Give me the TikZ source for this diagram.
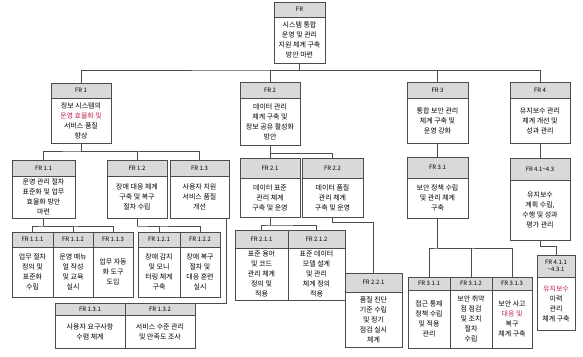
\documentclass[tikz,border=0pt]{standalone}
\usepackage{fontspec}
\setmainfont{Noto Sans CJK KR}
\usepackage{xcolor}
\definecolor{krred}{RGB}{190,40,80}
\usetikzlibrary{positioning}

\begin{document}
\begin{tikzpicture}[x=1pt,y=-1pt,
  hd/.style={draw=black!70,fill=gray!30,line width=0.8pt,inner sep=1pt,outer sep=0pt,
             anchor=north west,font=\fontsize{6}{7}\selectfont},
  bd/.style={draw=black!70,fill=white,line width=0.8pt,inner sep=1pt,outer sep=0pt,
             align=center,font=\fontsize{7}{10}\selectfont},
  link/.style={draw=black!70,line width=0.8pt}]
  \useasboundingbox (0,0) rectangle (583,356);
  %% FR
  \node[hd,minimum width=51pt,minimum height=15pt] (fr) at (274,2) {FR};
  \node[bd,minimum width=51pt,minimum height=46pt,below=0pt of fr] (frb)
        {시스템 통합\\운영 및 관리\\지원 체계 구축\\방안 마련};
  %% FR 1 .. FR 4
  \node[hd,minimum width=60pt,minimum height=15pt] (fr1) at (51,83) {FR 1};
  \node[bd,minimum width=60pt,minimum height=45pt,below=0pt of fr1] (fr1b)
        {정보 시스템의\\\textcolor{krred}{운영 효율화 및}\\서비스 품질\\향상};
  \node[hd,minimum width=60pt,minimum height=16pt] (fr2) at (240,82) {FR 2};
  \node[bd,minimum width=60pt,minimum height=47pt,below=0pt of fr2] (fr2b)
        {데이터 관리\\체계 구축 및\\정보 공유 활성화\\방안};
  \node[hd,minimum width=61pt,minimum height=16pt] (fr3) at (407,82) {FR 3};
  \node[bd,minimum width=61pt,minimum height=45pt,below=0pt of fr3] (fr3b)
        {통합 보안 관리\\체계 구축 및\\운영 강화};
  \node[hd,minimum width=60pt,minimum height=16pt] (fr4) at (510,82) {FR 4};
  \node[bd,minimum width=60pt,minimum height=45pt,below=0pt of fr4] (fr4b)
        {유지보수 관리\\체계 개선 및\\성과 관리};
  %% FR 1.x
  \node[hd,minimum width=63pt,minimum height=16pt] (fr11) at (12,160) {FR 1.1};
  \node[bd,minimum width=63pt,minimum height=42pt,below=0pt of fr11] (fr11b)
        {운영 관리 절차\\표준화 및 업무\\효율화 방안\\마련};
  \node[hd,minimum width=60pt,minimum height=16pt] (fr12) at (107,160) {FR 1.2};
  \node[bd,minimum width=60pt,minimum height=42pt,below=0pt of fr12] (fr12b)
        {장애 대응 체계\\구축 및 복구\\절차 수립};
  \node[hd,minimum width=59pt,minimum height=16pt] (fr13) at (170,160) {FR 1.3};
  \node[bd,minimum width=59pt,minimum height=42pt,below=0pt of fr13] (fr13b)
        {사용자 지원\\서비스 품질\\개선};
  %% FR 2.x, 3.x, 4.x
  \node[hd,minimum width=60pt,minimum height=20pt] (fr21) at (240,158) {FR 2.1};
  \node[bd,minimum width=60pt,minimum height=39pt,below=0pt of fr21] (fr21b)
        {데이터 표준\\관리 체계\\구축 및 운영};
  \node[hd,minimum width=61pt,minimum height=20pt] (fr22) at (302,158) {FR 2.2};
  \node[bd,minimum width=61pt,minimum height=39pt,below=0pt of fr22] (fr22b)
        {데이터 품질\\관리 체계\\구축 및 운영};
  \node[hd,minimum width=61pt,minimum height=21pt] (fr31) at (407,157) {FR 3.1};
  \node[bd,minimum width=61pt,minimum height=40pt,below=0pt of fr31] (fr31b)
        {보안 정책 수립\\및 관리 체계\\구축};
  \node[hd,minimum width=60pt,minimum height=22pt] (fr4x) at (510,158) {FR 4.1\textasciitilde4.3};
  \node[bd,minimum width=60pt,minimum height=60pt,below=0pt of fr4x] (fr4xb)
        {유지보수\\계획 수립,\\수행 및 성과\\평가 관리};
  %% FR 1.1.x, 1.2.x
  \node[hd,minimum width=41pt,minimum height=15pt] (fr111) at (12,232) {FR 1.1.1};
  \node[bd,minimum width=41pt,minimum height=50pt,below=0pt of fr111] (fr111b)
        {업무 절차\\정의 및\\표준화\\수립};
  \node[hd,minimum width=40pt,minimum height=15pt] (fr112) at (53,232) {FR 1.1.2};
  \node[bd,minimum width=40pt,minimum height=50pt,below=0pt of fr112] (fr112b)
        {운영 매뉴\\얼 작성\\및 교육\\실시};
  \node[hd,minimum width=40pt,minimum height=15pt] (fr113) at (93,232) {FR 1.1.3};
  \node[bd,minimum width=40pt,minimum height=50pt,below=0pt of fr113] (fr113b)
        {업무 자동\\화 도구\\도입};
  \node[hd,minimum width=42pt,minimum height=15pt] (fr121) at (138,232) {FR 1.2.1};
  \node[bd,minimum width=42pt,minimum height=50pt,below=0pt of fr121] (fr121b)
        {장애 감지\\및 모니\\터링 체계\\구축};
  \node[hd,minimum width=40pt,minimum height=15pt] (fr122) at (180,232) {FR 1.2.2};
  \node[bd,minimum width=40pt,minimum height=50pt,below=0pt of fr122] (fr122b)
        {장애 복구\\절차 및\\대응 훈련\\실시};
  %% FR 1.3.x
  \node[hd,minimum width=70pt,minimum height=12pt] (fr131) at (55,303) {FR 1.3.1};
  \node[bd,minimum width=70pt,minimum height=33pt,below=0pt of fr131] (fr131b)
        {사용자 요구사항\\수렴 체계};
  \node[hd,minimum width=70pt,minimum height=12pt] (fr132) at (125,303) {FR 1.3.2};
  \node[bd,minimum width=70pt,minimum height=33pt,below=0pt of fr132] (fr132b)
        {서비스 수준 관리\\및 만족도 조사};
  %% FR 2.x.x
  \node[hd,minimum width=53pt,minimum height=18pt] (fr211) at (235,230) {FR 2.1.1};
  \node[bd,minimum width=53pt,minimum height=52pt,below=0pt of fr211] (fr211b)
        {표준 용어\\및 코드\\관리 체계\\정의 및\\적용};
  \node[hd,minimum width=57pt,minimum height=18pt] (fr212) at (288,230) {FR 2.1.2};
  \node[bd,minimum width=57pt,minimum height=52pt,below=0pt of fr212] (fr212b)
        {표준 데이터\\모델 설계\\및 관리\\체계 정의\\적용};
  \node[hd,minimum width=57pt,minimum height=19pt] (fr221) at (345,273) {FR 2.2.1};
  \node[bd,minimum width=57pt,minimum height=55pt,below=0pt of fr221] (fr221b)
        {품질 진단\\기준 수립\\및 정기\\점검 실시\\체계};
  %% FR 3.1.x
  \node[hd,minimum width=42pt,minimum height=13pt] (fr311) at (408,277) {FR 3.1.1};
  \node[bd,minimum width=42pt,minimum height=58pt,below=0pt of fr311] (fr311b)
        {접근 통제\\정책 수립\\및 적용\\관리};
  \node[hd,minimum width=42pt,minimum height=13pt] (fr312) at (450,277) {FR 3.1.2};
  \node[bd,minimum width=42pt,minimum height=58pt,below=0pt of fr312] (fr312b)
        {보안 취약\\점 점검\\및 조치\\절차\\수립};
  \node[hd,minimum width=40pt,minimum height=13pt] (fr313) at (492,277) {FR 3.1.3};
  \node[bd,minimum width=40pt,minimum height=58pt,below=0pt of fr313] (fr313b)
        {보안 사고\\\textcolor{krred}{대응 및}\\복구\\체계 구축};
  %% FR 4.x.x
  \node[hd,minimum width=38pt,minimum height=22pt,align=center] (fr4xx) at (537,255)
        {FR 4.1.1\\\textasciitilde4.3.1};
  \node[bd,minimum width=38pt,minimum height=53pt,below=0pt of fr4xx] (fr4xxb)
        {\textcolor{krred}{유지보수}\\이력\\관리\\체계 구축};
  %% connectors
  \draw[link] (frb.south) -- ++(0,7) coordinate (j0);
  \draw[link] (fr1.north) |- (j0) -| (fr4.north);
  \draw[link] (fr2.north) |- (j0);
  \draw[link] (fr3.north) |- (j0);
  \draw[link] (fr1b.south) -- ++(0,8) coordinate (j1);
  \draw[link] (fr11.north) |- (j1) -| (fr13.north);
  \draw[link] (fr12.north) |- (j1);
  \draw[link] (fr2b.south) -- ++(0,8) coordinate (j2);
  \draw[link] (fr21.north) |- (j2) -| (fr22.north);
  \draw[link] (fr3b.south) -- (fr31.north);
  \draw[link] (fr4b.south) -- (fr4x.north);
  \draw[link] (fr11b.south) -- ++(0,8) coordinate (j11);
  \draw[link] (fr111.north) |- (j11) -| (fr113.north);
  \draw[link] (fr112.north) |- (j11);
  \draw[link] (fr12b.south) -- ++(0,8) coordinate (j12);
  \draw[link] (fr121.north) |- (j12) -| (fr122.north);
  \draw[link] ([xshift=-3pt]fr13b.south east) |- (fr132.north);
  \draw[link] (fr21b.south) -- ++(0,8) coordinate (j21);
  \draw[link] (fr211.north) |- (j21) -| (fr212.north);
  \draw[link] (fr22b.south) -- ++(0,5) -| (fr221.north);
  \draw[link] (fr31b.south) -- ++(0,30) coordinate (j31);
  \draw[link] (fr311.north) |- (j31) -| (fr313.north);
  \draw[link] (fr312.north) |- (j31);
  \draw[link] (fr4xb.south) -- ++(0,6) -| (fr4xx.north);
\end{tikzpicture}
\end{document}
